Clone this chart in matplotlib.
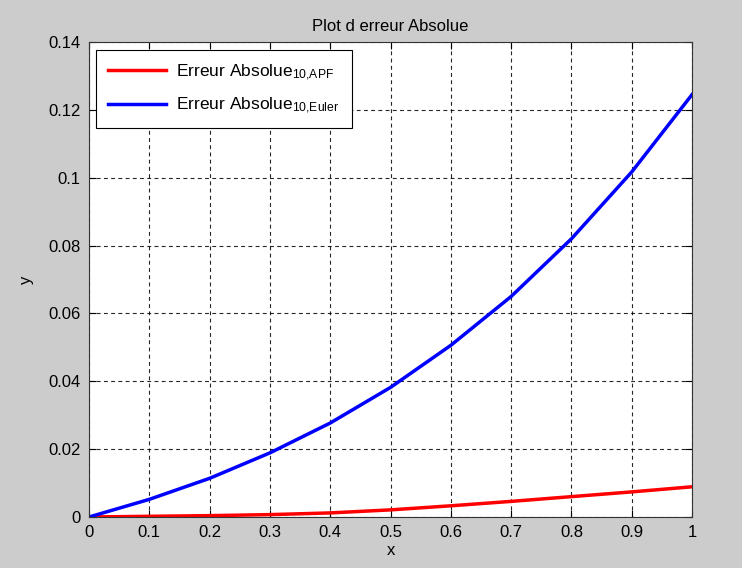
import numpy as np
import matplotlib
matplotlib.use('Agg')
import matplotlib.pyplot as plt

# values
x = [0, 0.1, 0.2, 0.3, 0.4, 0.5, 0.6, 0.7, 0.8, 0.9, 1.0]
err_apf = [0, 0.0002, 0.0004, 0.0007, 0.0012, 0.0021, 0.0033, 0.0046, 0.0060, 0.0074, 0.0089]
err_euler = [0, 0.0052, 0.0114, 0.0189, 0.0277, 0.0382, 0.0506, 0.0650, 0.0820, 0.1017, 0.1245]
xticks = [0, 0.1, 0.2, 0.3, 0.4, 0.5, 0.6, 0.7, 0.8, 0.9, 1]
yticks = [0, 0.02, 0.04, 0.06, 0.08, 0.1, 0.12, 0.14]

plt.rcParams['font.family'] = ['Liberation Sans', 'DejaVu Sans']
plt.rcParams['mathtext.fontset'] = 'custom'
plt.rcParams['mathtext.rm'] = 'Liberation Sans'
plt.rcParams['mathtext.it'] = 'Liberation Sans'

fig = plt.figure(figsize=(7.42, 5.68), dpi=100, facecolor='#cccccc')
ax = fig.add_axes([0.12, 0.0898, 0.8127, 0.8363])

ax.plot(x, err_apf, color='red', lw=2.5, label=r'Erreur Absolue$_{\mathrm{10{,}APF}}$')
ax.plot(x, err_euler, color='blue', lw=2.5, label=r'Erreur Absolue$_{\mathrm{10{,}Euler}}$')

ax.set_xlim(0, 1)
ax.set_ylim(0, 0.14)
ax.set_xticks(xticks)
ax.set_xticklabels([f'{t:g}' for t in xticks])
ax.set_yticks(yticks)
ax.set_yticklabels([f'{t:g}' for t in yticks])
ax.tick_params(direction='in', top=True, right=True, labelsize=12, length=5, pad=6)
ax.grid(True, color='black', linestyle=(0, (3.5, 3)), linewidth=0.8, alpha=0.85)
for s in ax.spines.values():
    s.set_color('#333333')

ax.set_title('Plot d erreur Absolue', fontsize=12, pad=8)
ax.set_xlabel('x', fontsize=12, labelpad=2)
ax.set_ylabel('y', fontsize=12, labelpad=10)

leg = ax.legend(loc='upper left', fontsize=12.5, fancybox=False, framealpha=1,
                edgecolor='black', handlelength=3.3, handletextpad=0.6,
                borderpad=0.7, labelspacing=0.75, borderaxespad=0,
                bbox_to_anchor=(0.012, 0.983))
leg.get_frame().set_linewidth(0.8)

fig.savefig('out.png', dpi=100, facecolor=fig.get_facecolor())
